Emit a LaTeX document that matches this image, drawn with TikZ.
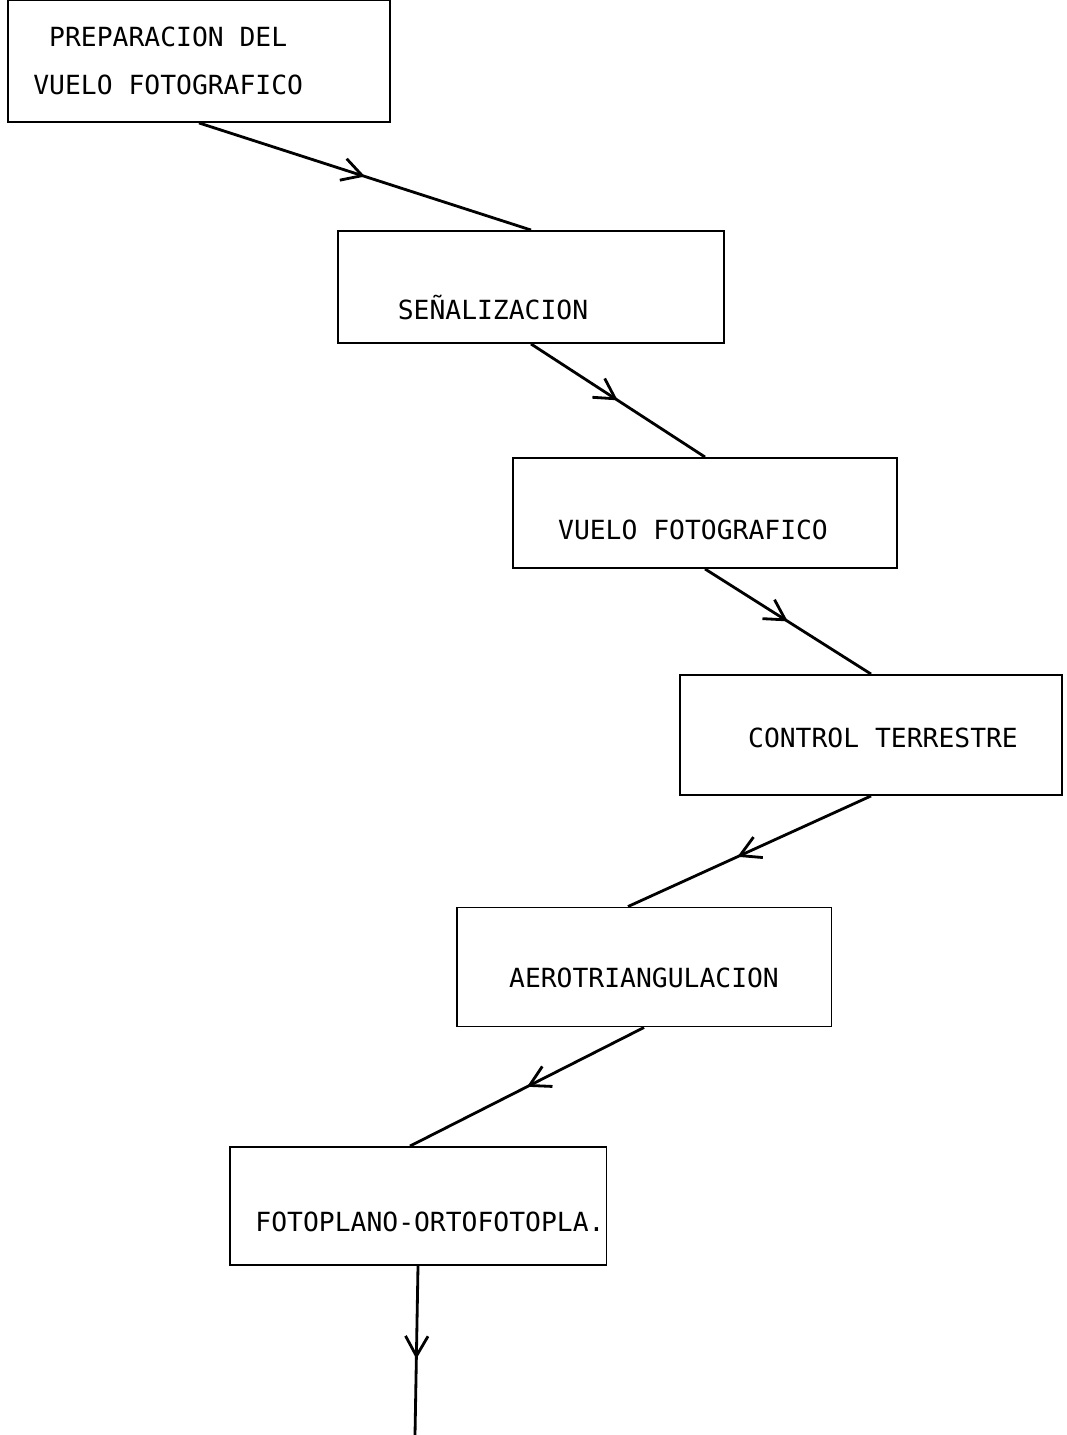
\documentclass[tikz,border=0pt]{standalone}
\usepackage{fontspec}
\newfontfamily\maquina{DejaVu Sans Mono}
\usetikzlibrary{arrows.meta,decorations.markings}

\tikzset{
  caja/.style={draw,line width=1.1pt,minimum width=7.6cm,minimum height=2.3cm,inner sep=0pt},
  texto/.style={font=\maquina\fontsize{15}{27.2}\selectfont,inner sep=0pt,align=left},
  flecha/.style={line width=1.6pt,decoration={markings,
      mark=at position #1 with {\arrow{Straight Barb[length=4mm,width=4.5mm]}}},
      postaction={decorate}},
  flecha/.default=0.5
}

\begin{document}
\begin{tikzpicture}[x=0.02cm,y=-0.02cm]
\useasboundingbox (0,0) rectangle (1066,1435);
% cajas
\node[caja,minimum width=7.64cm,minimum height=2.44cm] (prep) at (199,61) {};
\node[caja,minimum width=7.72cm,minimum height=2.24cm] (senal) at (531,287) {};
\node[caja,minimum width=7.68cm,minimum height=2.2cm] (vuelo) at (705,513) {};
\node[caja,minimum width=7.64cm,minimum height=2.4cm] (control) at (871,735) {};
\node[caja,minimum width=7.5cm,minimum height=2.38cm] (aero) at (644,967) {};
\node[caja,minimum width=7.54cm,minimum height=2.36cm] (foto) at (418,1206) {};
% textos
\node[texto,anchor=west] (prep-t) at (33,61) {\ PREPARACION DEL\\VUELO FOTOGRAFICO};
\node[texto] (senal-t) at (493,308) {SEÑALIZACION};
\node[texto] (vuelo-t) at (693,530) {VUELO FOTOGRAFICO};
\node[texto] (control-t) at (883,738) {CONTROL TERRESTRE};
\node[texto] (aero-t) at (644,978) {AEROTRIANGULACION};
\node[texto] (foto-t) at (430,1222) {FOTOPLANO-ORTOFOTOPLA.};
\coordinate (fin) at (415,1435);
% conectores
\draw[flecha] (prep.south) -- (senal.north);
\draw[flecha] (senal.south) -- (vuelo.north);
\draw[flecha] (vuelo.south) -- (control.north);
\draw[flecha=0.55] (control.south) -- ([xshift=-3.2mm]aero.north);
\draw[flecha] (aero.south) -- ([xshift=-1.6mm]foto.north);
\draw[flecha=0.55] (foto.south) -- (fin);
\end{tikzpicture}
\end{document}
